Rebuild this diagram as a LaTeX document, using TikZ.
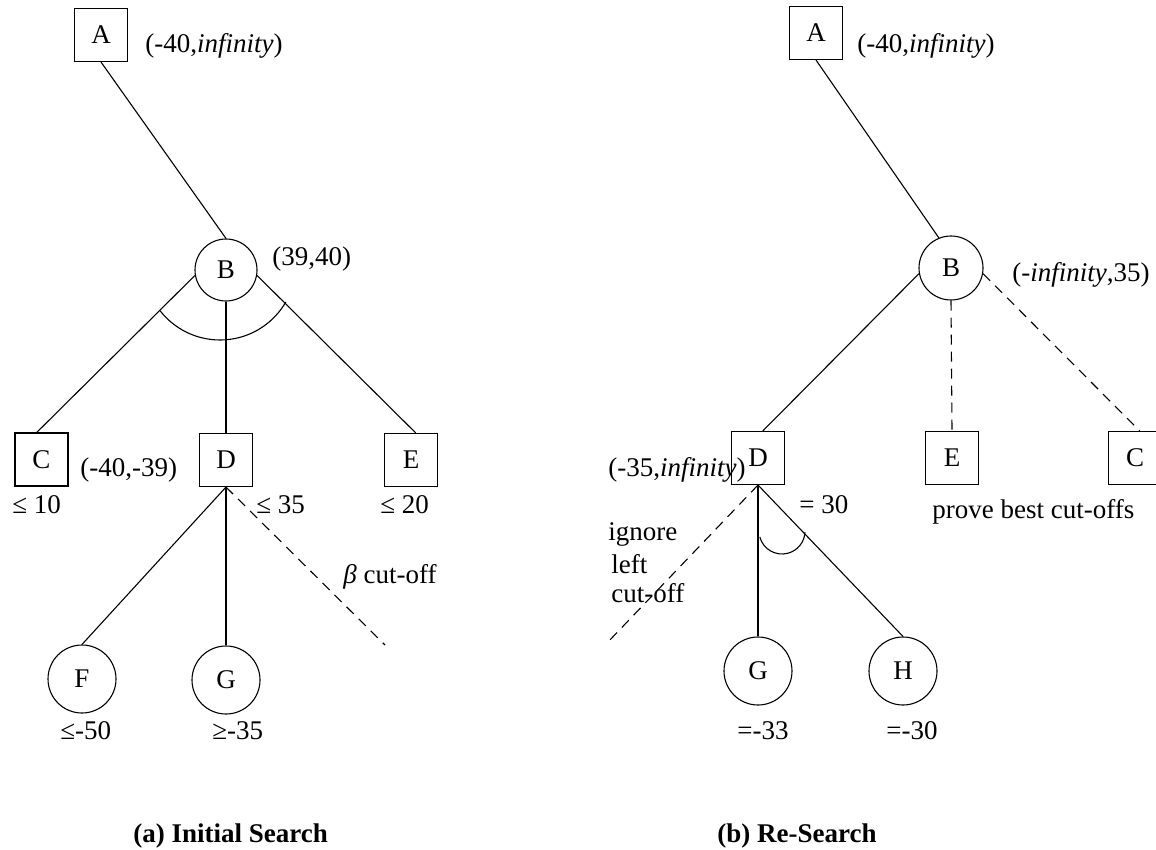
\documentclass[tikz,border=0pt]{standalone}
\usepackage{fontspec}
\setmainfont{Liberation Serif}
\begin{document}
\begin{tikzpicture}[
  x=0.5pt,y=0.5pt,
  every node/.style={font=\fontsize{13.5}{16}\selectfont},
  box/.style={draw,line width=0.55pt,minimum size=26.5pt,inner sep=0pt},
  inode/.style={draw,circle,line width=0.55pt,minimum size=31pt,inner sep=0pt},
  leaf/.style={draw,circle,line width=0.55pt,minimum size=34pt,inner sep=0pt},
  lbl/.style={anchor=base west,inner sep=0pt},
  caption/.style={anchor=base west,inner sep=0pt,font=\fontsize{13.5}{16}\selectfont\bfseries},
  edge/.style={line width=0.55pt},
  cut/.style={line width=0.55pt,dash pattern=on 5pt off 3.5pt}
]
  \useasboundingbox (0,0) rectangle (1156,-850);
  \clip (0,0) rectangle (1156,-850);

  \node[box] (la) at (101,-35) {A};
  \node[inode] (lb) at (226,-270) {B};
  \node[box] (lc) at (41.5,-459.5) {C};
  \node[box] (ld) at (226,-460) {D};
  \node[box] (le) at (411,-460) {E};
  \node[leaf] (lf) at (82,-679) {F};
  \node[leaf] (lg) at (226,-680) {G};
  \coordinate (lbeta) at (385,-645);
  \coordinate (larc) at (220,-264);

  \node[lbl] (la1) at (145,-53) {(-40,\textit{infinity})};
  \node[lbl] (lb1) at (272,-265) {(39,40)};
  \node[lbl] (lc1) at (80,-476) {(-40,-39)};
  \node[lbl] (lc2) at (12,-513) {≤ 10};
  \node[lbl] (ld1) at (256,-513) {≤ 35};
  \node[lbl] (le1) at (380,-513) {≤ 20};
  \node[lbl] (lcut) at (343,-583) {\textit{β} cut-off};
  \node[lbl] (lf1) at (60,-739) {≤-50};
  \node[lbl] (lg1) at (212,-739) {≥-35};
  \node[caption] (capa) at (133,-842) {(a) Initial Search};

  \draw[edge] (la.south) -- (lb.north);
  \draw[edge] (lb.190) -- (lc.100);
  \draw[edge] (lb.south) -- (ld.north);
  \draw[edge] (lb.-10) -- (le.80);
  \draw[edge] (ld.south) -- (lf.north);
  \draw[edge] (ld.south) -- (lg.north);
  \draw[cut] (ld.south) -- (lbeta);
  \draw[edge] ([shift={(218:38pt)}]larc) arc[start angle=218,end angle=330,radius=38pt];

  \node[box] (ra) at (816,-33) {A};
  \node[inode,minimum size=32pt] (rb) at (951,-268) {B};
  \node[box] (rd) at (758,-458) {D};
  \node[box] (re) at (952,-458) {E};
  \node[box] (rc) at (1135,-458) {C};
  \node[leaf] (rg) at (758,-671) {G};
  \node[leaf] (rh) at (903,-671) {H};
  \coordinate (rleftcut) at (607,-643);
  \coordinate (rarc) at (782,-531);

  \node[lbl] (ra1) at (857,-53) {(-40,\textit{infinity})};
  \node[lbl] (rb1) at (1012,-281) {(-\textit{infinity},35)};
  \node[lbl] (rd1) at (608,-476) {(-35,\textit{infinity})};
  \node[lbl] (rd2) at (799,-513) {= 30};
  \node[lbl] (rprove) at (932,-518) {prove best cut-offs};
  \node[lbl] (rign) at (608,-540) {ignore};
  \node[lbl] (rleft) at (611,-573) {left};
  \node[lbl] (rcut) at (611,-602) {cut-off};
  \node[lbl] (rg1) at (737,-739) {=-33};
  \node[lbl] (rh1) at (886,-739) {=-30};
  \node[caption] (capb) at (717,-842) {(b) Re-Search};

  \draw[edge] (ra.south) -- (rb.112);
  \draw[edge] (rb.190) -- (rd.80);
  \draw[cut] (rb.south) -- (re.north);
  \draw[cut] (rb.-10) -- (rc.80);
  \draw[edge] (rd.south) -- (rg.north);
  \draw[edge] (rd.south) -- (rh.north);
  \draw[cut] (rd.south) -- (rleftcut);
  \draw[edge] ([shift={(195:11.5pt)}]rarc) arc[start angle=195,end angle=357,radius=11.5pt];
\end{tikzpicture}
\end{document}
